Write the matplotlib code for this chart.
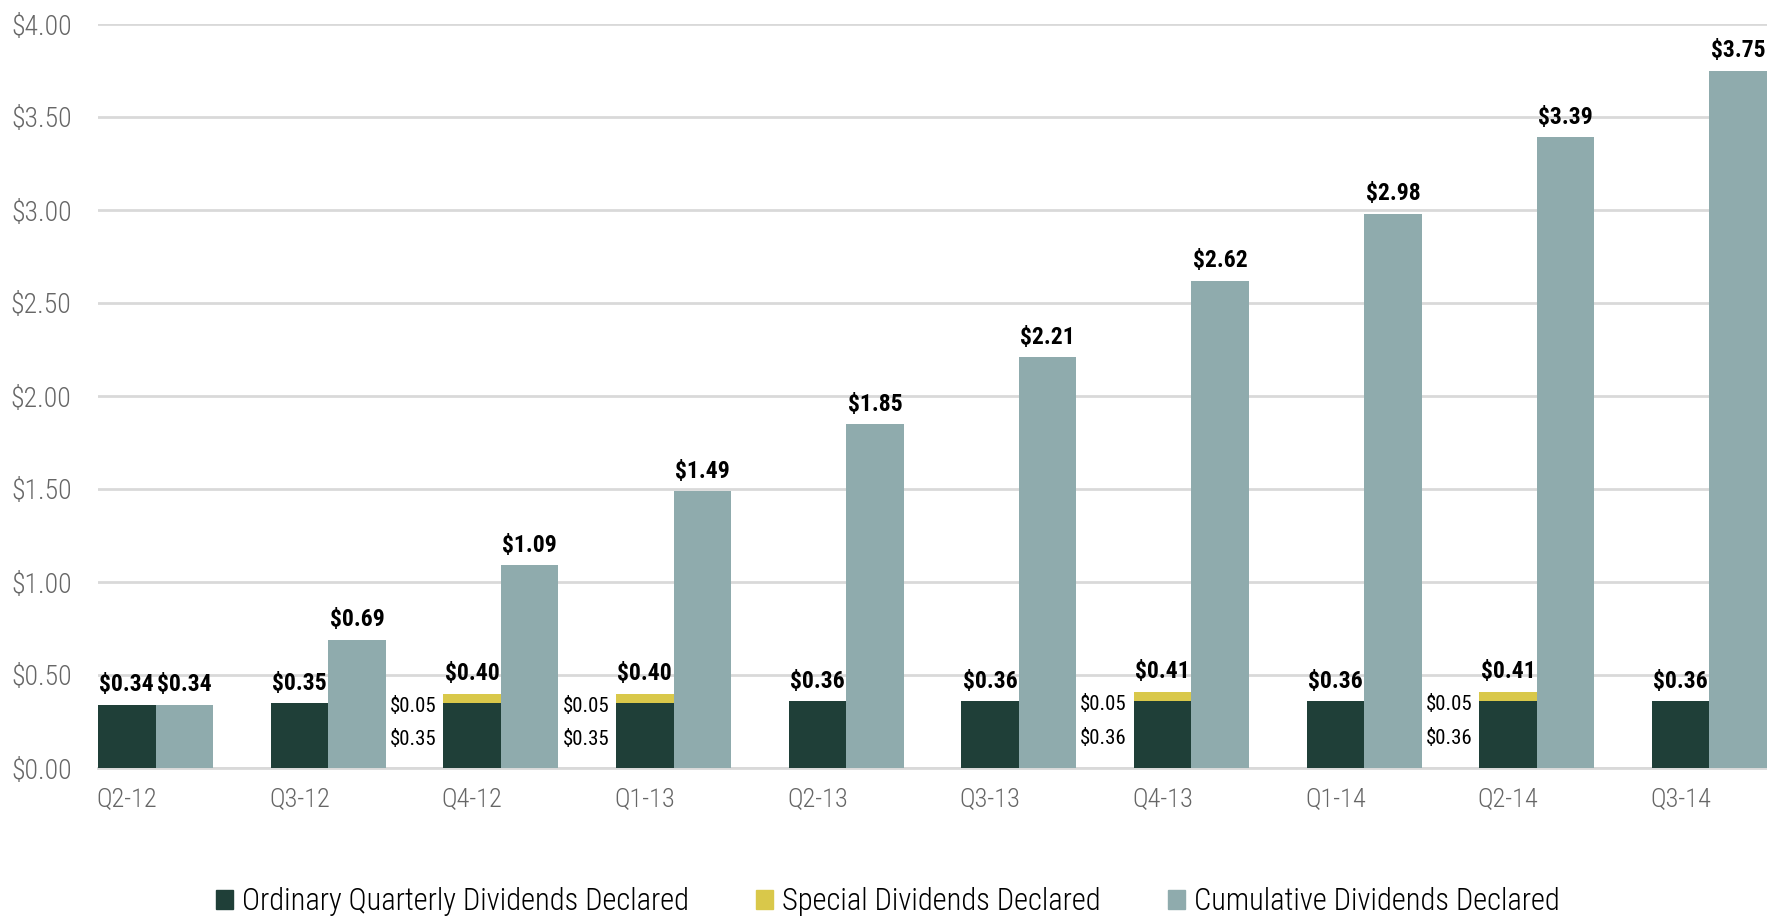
import matplotlib
matplotlib.use('Agg')
import matplotlib.pyplot as plt
from matplotlib.patches import Patch
import numpy as np

plt.rcParams['font.family'] = ['Roboto Condensed', 'DejaVu Sans']

# data
quarters = ['Q2-12', 'Q3-12', 'Q4-12', 'Q1-13', 'Q2-13', 'Q3-13', 'Q4-13', 'Q1-14', 'Q2-14', 'Q3-14']
ordinary = [0.34, 0.35, 0.35, 0.35, 0.36, 0.36, 0.36, 0.36, 0.36, 0.36]
special = [0.00, 0.00, 0.05, 0.05, 0.00, 0.00, 0.05, 0.00, 0.05, 0.00]
cumulative = [0.34, 0.69, 1.09, 1.49, 1.85, 2.21, 2.62, 2.98, 3.39, 3.75]

# colours
dark_green = '#1F3F38'
yellow = '#D9C84A'
grey_blue = '#8FABAD'
grid_grey = '#D9D9D9'
tick_grey = '#666666'

fig = plt.figure(figsize=(17.67, 9.17), dpi=100)
ax = fig.add_axes([98 / 1767, (917 - 768) / 917, 1 - 98 / 1767, (768 - 24) / 917])

x = np.arange(len(quarters))
w = 1 / 3
ordinary = np.array(ordinary)
special = np.array(special)
totals = ordinary + special

ax.bar(x - w / 2, ordinary, w, color=dark_green, zorder=3)
ax.bar(x - w / 2, special, w, bottom=ordinary, color=yellow, zorder=3)
ax.bar(x + w / 2, cumulative, w, color=grey_blue, zorder=3)

# labels on top
for xi, t in zip(x, totals):
    ax.annotate(f'${t:.2f}', (xi - w / 2, t), xytext=(0, 6), textcoords='offset points',
                ha='center', va='bottom', fontsize=17, fontweight='bold', color='black')
for xi, c in zip(x, cumulative):
    ax.annotate(f'${c:.2f}', (xi + w / 2, c), xytext=(0, 6), textcoords='offset points',
                ha='center', va='bottom', fontsize=17, fontweight='bold', color='black')

# split labels on the left of the bars with a special dividend
for xi, o, s in zip(x, ordinary, special):
    if s > 0:
        ax.annotate(f'${s:.2f}', (xi - w, o + s / 2), xytext=(-5, -6), textcoords='offset points',
                    ha='right', va='center', fontsize=15, color='black')
        ax.annotate(f'${o:.2f}', (xi - w, o / 2), xytext=(-5, -3), textcoords='offset points',
                    ha='right', va='center', fontsize=15, color='black')

ax.set_xlim(-w, len(quarters) - 1 + w)
ax.set_ylim(0, 4.0)
ax.set_yticks(np.arange(0, 4.01, 0.5))
ax.set_yticklabels([f'${v:.2f}' for v in np.arange(0, 4.01, 0.5)], fontweight='light')
ax.set_xticks(x - w / 2)
ax.set_xticklabels(quarters, fontweight='light')

ax.tick_params(axis='y', length=0, pad=19, labelsize=20, labelcolor=tick_grey)
ax.tick_params(axis='x', length=0, pad=14, labelsize=19, labelcolor=tick_grey)
ax.grid(axis='y', color=grid_grey, linewidth=2, zorder=0)
for side in ['top', 'right', 'left']:
    ax.spines[side].set_visible(False)
ax.spines['bottom'].set_color(grid_grey)
ax.spines['bottom'].set_linewidth(2)

handles = [Patch(color=dark_green, label='Ordinary Quarterly Dividends Declared'),
           Patch(color=yellow, label='Special Dividends Declared'),
           Patch(color=grey_blue, label='Cumulative Dividends Declared')]
fig.legend(handles=handles, loc='center', bbox_to_anchor=(888 / 1767, 1 - 902 / 917), ncol=3,
           frameon=False, prop={'size': 22, 'weight': 'light'}, handlelength=0.55, handleheight=0.55,
           handletextpad=0.3, columnspacing=2.2)

fig.savefig('out.png', dpi=100)
